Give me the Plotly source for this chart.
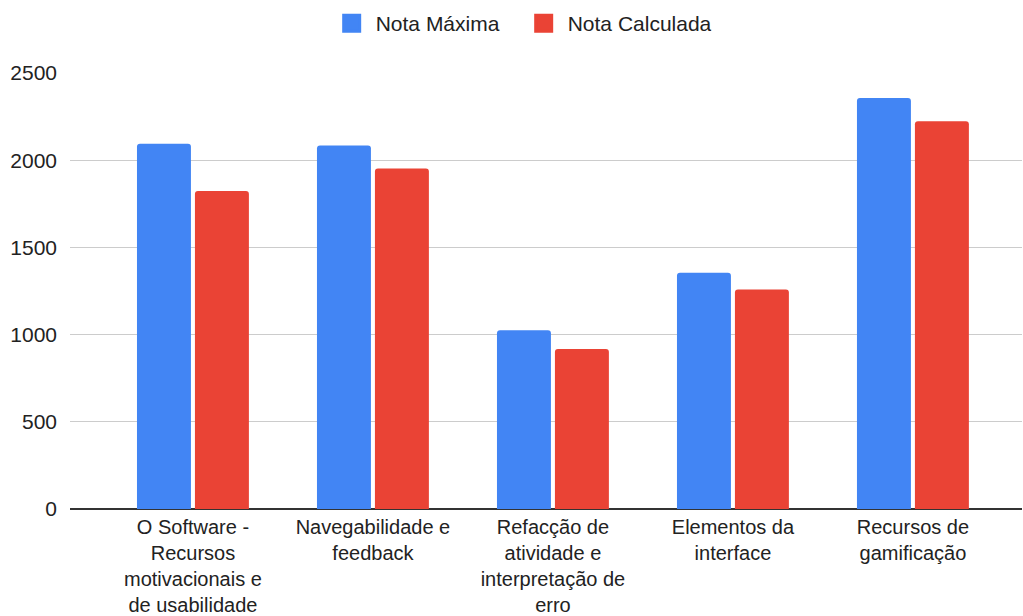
import plotly.graph_objects as go

categories = [
    "O Software -<br>Recursos<br>motivacionais e<br>de usabilidade",
    "Navegabilidade e<br>feedback",
    "Refacção de<br>atividade e<br>interpretação de<br>erro",
    "Elementos da<br>interface",
    "Recursos de<br>gamificação",
]
series_names = ["Nota Máxima", "Nota Calculada"]
nota_maxima = [2095, 2085, 1025, 1355, 2357]
nota_calculada = [1824, 1952, 918, 1259, 2223]
y_ticks = [0, 500, 1000, 1500, 2000, 2500]

BLUE = "#4285f4"
RED = "#ea4335"
FONT = "Liberation Sans, Arial, sans-serif"
TEXT = "#222222"

x = list(range(len(categories)))

fig = go.Figure()
for name, vals, col in zip(series_names, [nota_maxima, nota_calculada], [BLUE, RED]):
    fig.add_trace(go.Bar(name=name, x=x, y=vals, marker_color=col,
                         marker_line_width=0, showlegend=False))
    # legend entry with a larger square swatch
    fig.add_trace(go.Scatter(name=name, x=[None], y=[None], mode="markers",
                             marker=dict(symbol="square", size=16, color=col,
                                         line=dict(color=col, width=3)),
                             showlegend=True))

fig.update_layout(
    width=1023,
    height=616,
    margin=dict(l=70, r=1, t=73, b=107, autoexpand=False),
    paper_bgcolor="white",
    plot_bgcolor="white",
    barmode="group",
    bargap=0.356,
    bargroupgap=0.069,
    barcornerradius=3,
    font=dict(family=FONT, size=20, color=TEXT),
    showlegend=True,
    legend=dict(
        orientation="h",
        xref="container",
        yref="container",
        x=0.508,
        xanchor="center",
        y=0.995,
        yanchor="top",
        font=dict(size=21, color=TEXT),
        itemsizing="trace",
        itemwidth=38,
        entrywidth=139,
    ),
    xaxis=dict(
        tickmode="array",
        tickvals=x,
        ticktext=categories,
        range=[-0.683, 4.606],
        automargin=False,
        showgrid=False,
        showline=False,
        zeroline=False,
        ticks="",
        ticklabelstandoff=4,
        tickfont=dict(size=20, color=TEXT),
    ),
    yaxis=dict(
        range=[0, 2500],
        automargin=False,
        tickmode="array",
        tickvals=y_ticks,
        showgrid=True,
        gridcolor="#cccccc",
        gridwidth=1,
        zeroline=True,
        zerolinecolor="#333333",
        zerolinewidth=2,
        ticks="",
        ticklabelstandoff=12,
        tickfont=dict(size=21, color=TEXT),
    ),
)

fig.write_html("out.html")
